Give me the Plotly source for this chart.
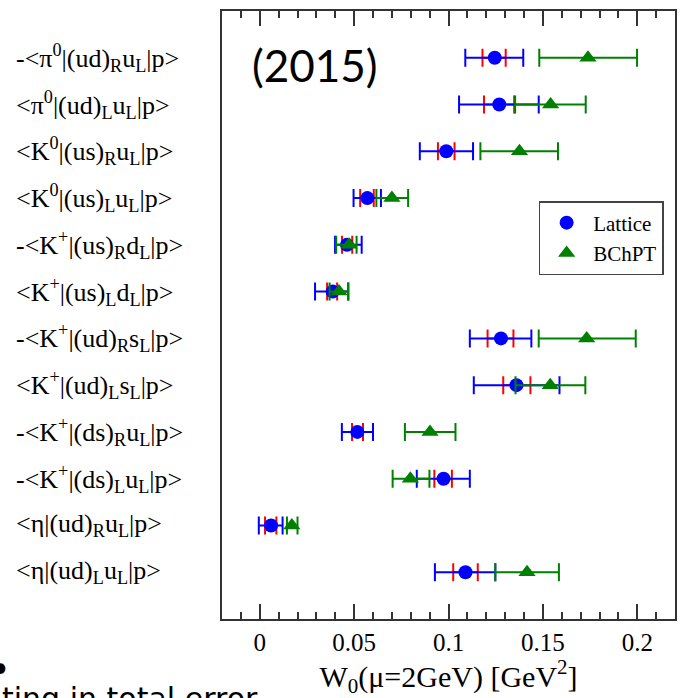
import plotly.graph_objects as go

# ---- data ----
labels = [
    "-&lt;π<sup>0</sup>|(ud)<sub>R</sub>u<sub>L</sub>|p&gt;",
    "&lt;π<sup>0</sup>|(ud)<sub>L</sub>u<sub>L</sub>|p&gt;",
    "&lt;K<sup>0</sup>|(us)<sub>R</sub>u<sub>L</sub>|p&gt;",
    "&lt;K<sup>0</sup>|(us)<sub>L</sub>u<sub>L</sub>|p&gt;",
    "-&lt;K<sup>+</sup>|(us)<sub>R</sub>d<sub>L</sub>|p&gt;",
    "&lt;K<sup>+</sup>|(us)<sub>L</sub>d<sub>L</sub>|p&gt;",
    "-&lt;K<sup>+</sup>|(ud)<sub>R</sub>s<sub>L</sub>|p&gt;",
    "&lt;K<sup>+</sup>|(ud)<sub>L</sub>s<sub>L</sub>|p&gt;",
    "-&lt;K<sup>+</sup>|(ds)<sub>R</sub>u<sub>L</sub>|p&gt;",
    "-&lt;K<sup>+</sup>|(ds)<sub>L</sub>u<sub>L</sub>|p&gt;",
    "&lt;η|(ud)<sub>R</sub>u<sub>L</sub>|p&gt;",
    "&lt;η|(ud)<sub>L</sub>u<sub>L</sub>|p&gt;",
]
rows = list(range(12, 0, -1))  # top row = 12

lattice_val = [0.1245, 0.1269, 0.0988, 0.0570, 0.0462, 0.0386, 0.1278, 0.1360, 0.0517, 0.0974, 0.0060, 0.1090]
lattice_tot_lo = [0.1089, 0.1056, 0.0848, 0.0497, 0.0399, 0.0293, 0.1113, 0.1134, 0.0435, 0.0832, -0.0005, 0.0928]
lattice_tot_hi = [0.1396, 0.1478, 0.1130, 0.0642, 0.0540, 0.0469, 0.1439, 0.1588, 0.0600, 0.1113, 0.0121, 0.1248]
lattice_stat_lo = [0.1180, 0.1188, 0.0944, 0.0532, 0.0436, 0.0357, 0.1207, 0.1290, 0.0489, 0.0925, 0.0028, 0.1025]
lattice_stat_hi = [0.1303, 0.1348, 0.1032, 0.0604, 0.0490, 0.0410, 0.1344, 0.1434, 0.0547, 0.1018, 0.0088, 0.1155]

bchpt_val = [0.1739, 0.1541, 0.1376, 0.0700, 0.0473, 0.0420, 0.1732, 0.1539, 0.0902, 0.0798, 0.0170, 0.1416]
bchpt_lo = [0.1481, 0.1353, 0.1169, 0.0618, 0.0405, 0.0370, 0.1478, 0.1355, 0.0769, 0.0704, 0.0144, 0.1248]
bchpt_hi = [0.1999, 0.1727, 0.1580, 0.0786, 0.0513, 0.0469, 0.1992, 0.1725, 0.1037, 0.0899, 0.0200, 0.1585]

x_ticks = [0, 0.05, 0.1, 0.15, 0.2]
x_ticktext = ["0", "0.05", "0.1", "0.15", "0.2"]

SERIF = "Liberation Serif"

def plus(v, hi):
    return [h - c for c, h in zip(v, hi)]

def minus(v, lo):
    return [c - l for c, l in zip(v, lo)]

fig = go.Figure()

# statistical (red) error bars of the lattice result
fig.add_trace(go.Scatter(
    x=lattice_val, y=rows, mode="markers",
    marker=dict(size=1, color="rgba(0,0,0,0)"),
    error_x=dict(type="data", symmetric=False,
                 array=plus(lattice_val, lattice_stat_hi),
                 arrayminus=minus(lattice_val, lattice_stat_lo),
                 color="#ff0000", thickness=2, width=9),
    showlegend=False, hoverinfo="skip",
))

# lattice total error + points
fig.add_trace(go.Scatter(
    x=lattice_val, y=rows, mode="markers", name="Lattice",
    marker=dict(size=14, color="#0000ff", symbol="circle"),
    error_x=dict(type="data", symmetric=False,
                 array=plus(lattice_val, lattice_tot_hi),
                 arrayminus=minus(lattice_val, lattice_tot_lo),
                 color="#0000ff", thickness=2, width=9),
))

# BChPT
fig.add_trace(go.Scatter(
    x=bchpt_val, y=rows, mode="markers", name="BChPT",
    marker=dict(size=15, color="#008000", symbol="triangle-up"),
    error_x=dict(type="data", symmetric=False,
                 array=plus(bchpt_val, bchpt_hi),
                 arrayminus=minus(bchpt_val, bchpt_lo),
                 color="#008000", thickness=2, width=9),
))

annotations = []
for lab, r in zip(labels, rows):
    annotations.append(dict(
        text=lab, xref="paper", yref="y", x=-0.459, y=r,
        xanchor="left", yanchor="middle", showarrow=False,
        font=dict(family=SERIF, size=26, color="black"),
    ))

annotations.append(dict(
    text="(2015)", xref="paper", yref="paper", x=0.2044, y=0.912,
    xanchor="center", yanchor="middle", showarrow=False,
    font=dict(family="Lato", size=44, color="black"),
))
annotations.append(dict(
    text="ting in total error", xref="paper", yref="paper", x=-0.49, y=-0.098,
    xanchor="left", yanchor="top", showarrow=False,
    font=dict(family="DejaVu Sans", size=30, color="black"),
))
annotations.append(dict(
    text="•", xref="paper", yref="paper", x=-0.490, y=-0.0765,
    xanchor="center", yanchor="middle", showarrow=False,
    font=dict(family="Lato", size=28, color="black"),
))

fig.update_layout(
    width=683, height=698,
    margin=dict(l=222, r=6, t=11, b=79),
    paper_bgcolor="white", plot_bgcolor="white",
    showlegend=True,
    legend=dict(
        x=0.699, y=0.6875, xanchor="left", yanchor="top",
        bgcolor="white", bordercolor="#444", borderwidth=1.5,
        font=dict(family=SERIF, size=21, color="black"),
        itemwidth=43, tracegroupgap=0,
    ),
    annotations=annotations,
    xaxis=dict(
        range=[-0.02, 0.22],
        tickvals=x_ticks, ticktext=x_ticktext,
        ticks="inside", ticklen=15, tickwidth=1.5, tickcolor="#333",
        minor=dict(ticks="inside", ticklen=7, tickwidth=1.5, tickcolor="#333", dtick=0.01, tick0=0, showgrid=False),
        showline=True, linecolor="#333", linewidth=2, mirror="allticks",
        showgrid=False, zeroline=False,
        tickfont=dict(family=SERIF, size=25, color="black"),
        title=dict(text="W<sub>0</sub>(μ=2GeV) [GeV<sup>2</sup>]",
                   font=dict(family=SERIF, size=30, color="black"), standoff=6),
    ),
    yaxis=dict(
        range=[0, 13], showticklabels=False, ticks="",
        showline=True, linecolor="#333", linewidth=2, mirror=True,
        showgrid=False, zeroline=False,
    ),
)

fig.write_html("out.html")
